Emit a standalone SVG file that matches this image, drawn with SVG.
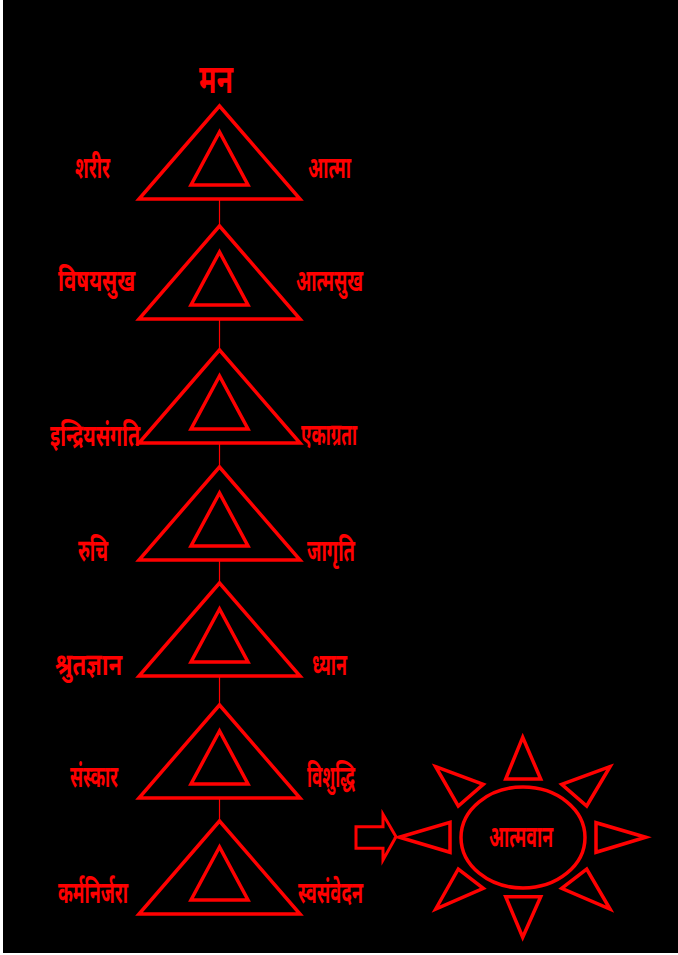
<svg xmlns="http://www.w3.org/2000/svg" width="678" height="955" viewBox="0 0 678 955">
<style>
.o{fill:none;stroke:#f00;stroke-width:3.5;stroke-linejoin:miter}
.c{fill:none;stroke:#f00;stroke-width:1.2}
.t{fill:#f00;font-family:"Noto Sans Devanagari","Lohit Devanagari","FreeSans","Noto Sans",sans-serif;font-weight:bold;font-size:31px}
</style>
<rect x="0" y="0" width="678" height="955" fill="#fff"/>
<rect x="3" y="0" width="675" height="953" fill="#000"/>
<defs>
<g id="tri">
<polygon class="o" points="219.5,0 139,93 300,93"/>
<polygon class="o" points="219.5,26 191,79 248,79"/>
</g>
</defs>
<g id="connectors">
<line class="c" x1="219.5" y1="199" x2="219.5" y2="226"/>
<line class="c" x1="219.5" y1="320" x2="219.5" y2="350"/>
<line class="c" x1="219.5" y1="444" x2="219.5" y2="467"/>
<line class="c" x1="219.5" y1="561" x2="219.5" y2="583"/>
<line class="c" x1="219.5" y1="677" x2="219.5" y2="705"/>
<line class="c" x1="219.5" y1="799" x2="219.5" y2="821"/>
</g>
<g id="top"><text class="t" x="199" y="93" textLength="34" lengthAdjust="spacingAndGlyphs" style="font-size:40px">मन</text></g>
<g id="n1"><use href="#tri" y="106"/>
<text class="t" x="75" y="178" textLength="35" lengthAdjust="spacingAndGlyphs">शरीर</text>
<text class="t" x="308" y="178" textLength="43" lengthAdjust="spacingAndGlyphs">आत्मा</text></g>
<g id="n2"><use href="#tri" y="226"/>
<text class="t" x="58" y="291" textLength="77" lengthAdjust="spacingAndGlyphs">विषयसुख</text>
<text class="t" x="296" y="291" textLength="67" lengthAdjust="spacingAndGlyphs">आत्मसुख</text></g>
<g id="n3"><use href="#tri" y="350"/>
<text class="t" x="50" y="446" textLength="90" lengthAdjust="spacingAndGlyphs">इन्द्रियसंगति</text>
<text class="t" x="301" y="445" textLength="56" lengthAdjust="spacingAndGlyphs">एकाग्रता</text></g>
<g id="n4"><use href="#tri" y="467"/>
<text class="t" x="78" y="561" textLength="30" lengthAdjust="spacingAndGlyphs">रुचि</text>
<text class="t" x="307" y="561" textLength="48" lengthAdjust="spacingAndGlyphs">जागृति</text></g>
<g id="n5"><use href="#tri" y="583"/>
<text class="t" x="55" y="675" textLength="67" lengthAdjust="spacingAndGlyphs">श्रुतज्ञान</text>
<text class="t" x="312" y="675" textLength="35" lengthAdjust="spacingAndGlyphs">ध्यान</text></g>
<g id="n6"><use href="#tri" y="705"/>
<text class="t" x="70" y="787" textLength="48" lengthAdjust="spacingAndGlyphs">संस्कार</text>
<text class="t" x="307" y="787" textLength="48" lengthAdjust="spacingAndGlyphs">विशुद्धि</text></g>
<g id="n7"><use href="#tri" y="821"/>
<text class="t" x="58" y="903" textLength="70" lengthAdjust="spacingAndGlyphs">कर्मनिर्जरा</text>
<text class="t" x="298" y="903" textLength="65" lengthAdjust="spacingAndGlyphs">स्वसंवेदन</text></g>
<g id="arrow"><polygon class="o" style="stroke-width:3" points="356,826.7 383,826.7 383,814.3 396,836.7 383,860 383,848.3 356,848.3"/></g>
<g id="sun">
<ellipse class="o" cx="523" cy="837.5" rx="62" ry="50.5"/>
<polygon class="o" points="522.7,737.3 505.7,779 540.7,779"/>
<polygon class="o" points="522.7,937.3 505.7,896.7 540.7,896.7"/>
<polygon class="o" points="399.3,837.3 450,822.3 450,852.3"/>
<polygon class="o" points="645.7,837.3 596,822.7 596,852.3"/>
<polygon class="o" points="435.7,766.7 483.3,784.3 458.3,806"/>
<polygon class="o" points="610,766.7 561.7,784.3 586.7,806"/>
<polygon class="o" points="435.7,909 458.3,869 483.3,888.3"/>
<polygon class="o" points="610,909 586.7,869 561.7,888.3"/>
<text class="t" x="489" y="847" textLength="64" lengthAdjust="spacingAndGlyphs">आत्मवान</text>
</g>
</svg>
